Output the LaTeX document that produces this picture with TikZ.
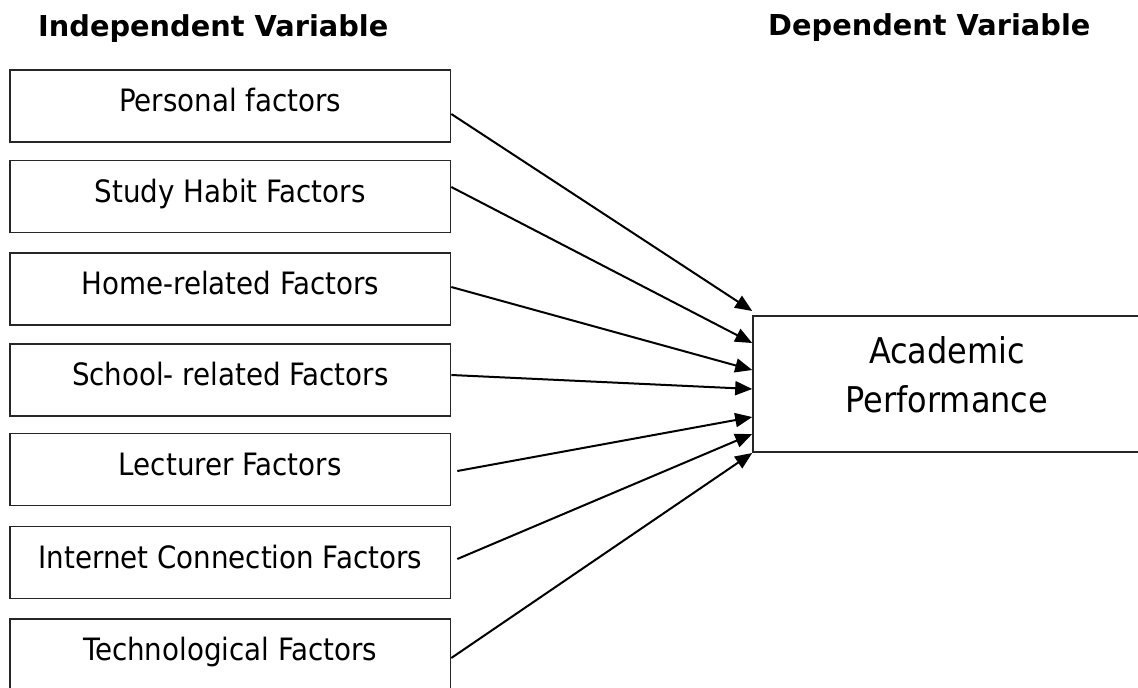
\documentclass[tikz,border=0pt]{standalone}
\usepackage{fontspec}
\newfontfamily\boxfont{DejaVu Sans Condensed}
\newfontfamily\titlefont{DejaVu Sans}
\usetikzlibrary{arrows.meta}
\tikzset{
  factor/.style={draw=black!85, line width=1.6pt, minimum width=440.5pt, minimum height=72pt,
    inner sep=0pt, font=\boxfont\fontsize{30.8}{36}\selectfont, text height=18pt, text depth=7pt},
  outcome/.style={draw=black!85, line width=1.6pt, minimum width=392pt, minimum height=136pt, inner sep=0pt},
  outtext/.style={font=\boxfont\fontsize{35.5}{49}\selectfont, align=center, inner sep=0pt},
  heading/.style={font=\titlefont\bfseries\fontsize{28.8}{34}\selectfont, anchor=base west, inner sep=0pt},
  link/.style={line width=2pt, -{Triangle[length=17pt,width=14pt]}}
}
\begin{document}
\begin{tikzpicture}[x=1pt,y=-1pt]
\useasboundingbox (0,0) rectangle (1138,688);
\node[heading] (ivt) at (38,36) {Independent Variable};
\node[heading] (dvt) at (768,35) {Dependent Variable};
\node[factor] (f1) at (230.25,106) {Personal factors};
\node[factor] (f2) at (230.25,196.5) {Study Habit Factors};
\node[factor] (f3) at (230.25,289) {Home-related Factors};
\node[factor] (f4) at (230.25,380) {School- related Factors};
\node[factor] (f5) at (230.25,469.5) {Lecturer Factors};
\node[factor] (f6) at (230.25,562.5) {Internet Connection Factors};
\node[factor] (f7) at (230.25,655) {Technological Factors};
\node[outcome] (ap) at (949,384) {};
\node[outtext] (apt) at (947,375) {Academic\\Performance};
\draw[link] ([yshift=-8pt]f1.east) -- ([yshift=73pt]ap.west);
\draw[link] ([yshift=9.5pt]f2.east) -- ([yshift=41pt]ap.west);
\draw[link] ([yshift=2pt]f3.east) -- ([yshift=14pt]ap.west);
\draw[link] ([yshift=5pt]f4.east) -- ([yshift=-5pt]ap.west);
\draw[link] ([xshift=6pt,yshift=-1.5pt]f5.east) -- ([yshift=-33pt]ap.west);
\draw[link] ([xshift=6pt,yshift=3.5pt]f6.east) -- ([yshift=-50pt]ap.west);
\draw[link] ([yshift=-3pt]f7.east) -- ([yshift=-69pt]ap.west);
\end{tikzpicture}
\end{document}
